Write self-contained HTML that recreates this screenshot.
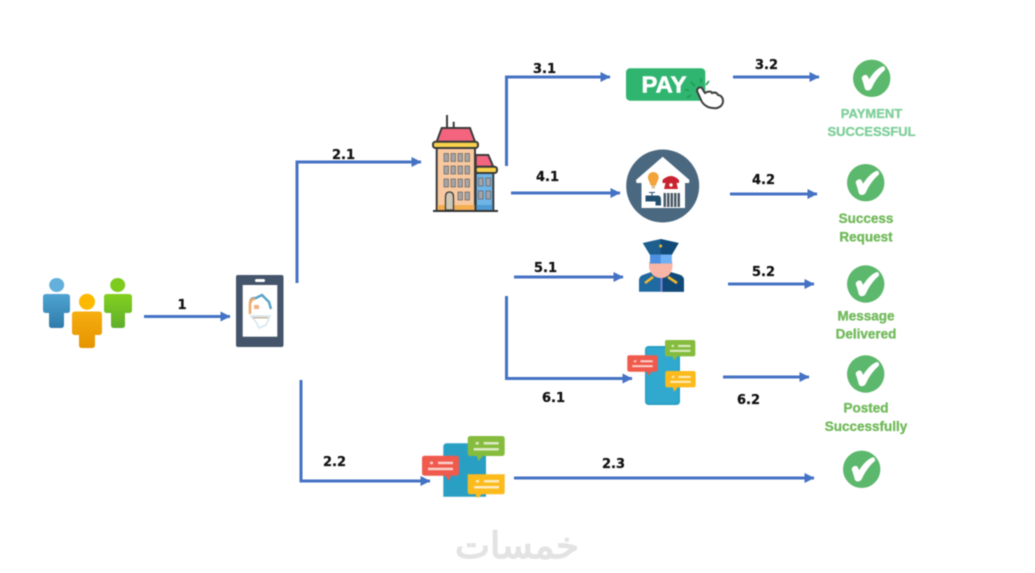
<!DOCTYPE html>
<html><head><meta charset="utf-8"><style>
html,body{margin:0;padding:0;background:#fff}
svg{display:block;filter:blur(.55px)}
.l{font:bold 13px "DejaVu Sans",sans-serif;fill:#111;stroke:#111;stroke-width:.25}
.g{font:bold 13.5px "Liberation Sans",sans-serif;text-anchor:middle;fill:#72ba5c;stroke:#72ba5c;stroke-width:.35}
.a{stroke:#4472c4;stroke-width:3;fill:none}
</style></head><body>
<svg width="1035" height="573" viewBox="0 0 1035 573" xmlns="http://www.w3.org/2000/svg">
<defs>
<linearGradient id="gb" x1="0" y1="0" x2="0" y2="1"><stop offset="0" stop-color="#4fa3d1"/><stop offset="1" stop-color="#2f7cab"/></linearGradient>
<linearGradient id="gg" x1="0" y1="0" x2="0" y2="1"><stop offset="0" stop-color="#84d01f"/><stop offset="1" stop-color="#5fae2c"/></linearGradient>
<linearGradient id="go" x1="0" y1="0" x2="0" y2="1"><stop offset="0" stop-color="#f6ae10"/><stop offset="1" stop-color="#e59400"/></linearGradient>
<marker id="m" viewBox="0 0 10 10" refX="9.500" refY="5" markerWidth="3.400" markerHeight="3.400" orient="auto"><path d="M0 0L10 5L0 10z" fill="#4472c4"/></marker>
<g id="chk"><circle r="18.700" fill="#5cb86c"/><path d="M-10 0C-10-3-5-5-4-2L-2.500 1C1-5 6-10 11-12C13-12 14-10 13-8C8-4 3 3 0 10C-2 13-6 13-7 10C-8 6-9 3-10 0z" fill="#fff"/></g>
<g id="bub"><rect width="37" height="20" rx="2.500" fill="currentColor"/><path d="M9 20h6l-4 5z" fill="currentColor"/><rect x="8" y="6" width="3" height="2.500" fill="#fff" opacity=".7"/><rect x="16" y="6" width="15" height="2.500" fill="#fff" opacity=".7"/><rect x="6" y="12" width="25" height="2.500" fill="#fff" opacity=".7"/></g>
<g id="bubr"><rect width="37" height="20" rx="2.500" fill="currentColor"/><path d="M23 20h6l-2 5z" fill="currentColor"/><rect x="8" y="6" width="3" height="2.500" fill="#fff" opacity=".7"/><rect x="16" y="6" width="15" height="2.500" fill="#fff" opacity=".7"/><rect x="6" y="12" width="25" height="2.500" fill="#fff" opacity=".7"/></g>
</defs>
<rect width="1035" height="573" fill="#fff"/>

<!-- connectors -->
<path class="a" marker-end="url(#m)" d="M144 316.500H230"/>
<path class="a" marker-end="url(#m)" d="M297 283V162H421"/>
<path class="a" marker-end="url(#m)" d="M506.500 166V77H610"/>
<path class="a" marker-end="url(#m)" d="M511 193H620"/>
<path class="a" marker-end="url(#m)" d="M733 77H819"/>
<path class="a" marker-end="url(#m)" d="M730 194H817"/>
<path class="a" marker-end="url(#m)" d="M514 277H623"/>
<path class="a" marker-end="url(#m)" d="M728 284H814"/>
<path class="a" marker-end="url(#m)" d="M506.500 296V378.500H632"/>
<path class="a" marker-end="url(#m)" d="M723 377H809"/>
<path class="a" marker-end="url(#m)" d="M301 380V481H430"/>
<path class="a" marker-end="url(#m)" d="M514 478H814"/>

<!-- connector labels -->
<text class="l" x="182" y="309" text-anchor="middle">1</text>
<text class="l" x="332" y="159">2.1</text>
<text class="l" x="533" y="73">3.1</text>
<text class="l" x="755" y="69">3.2</text>
<text class="l" x="536" y="181">4.1</text>
<text class="l" x="752" y="184">4.2</text>
<text class="l" x="534" y="272">5.1</text>
<text class="l" x="752" y="276">5.2</text>
<text class="l" x="542" y="402">6.1</text>
<text class="l" x="737" y="404">6.2</text>
<text class="l" x="323" y="466">2.2</text>
<text class="l" x="602" y="468">2.3</text>

<!-- people -->
<ellipse cx="56.700" cy="285" rx="7.500" ry="7" fill="#63b0dc"/>
<path d="M46 294H67Q70 294 70 297V310Q70 313 67 313H64V325Q64 328 61 328H52Q49 328 49 325V313H46Q43 313 43 310V297Q43 294 46 294z" fill="url(#gb)"/>
<ellipse cx="117.700" cy="285" rx="7.500" ry="7" fill="#7ecb20"/>
<path d="M107 294H129Q132 294 132 297V310Q132 313 129 313H125V325Q125 328 122 328H114Q111 328 111 325V313H107Q104 313 104 310V297Q104 294 107 294z" fill="url(#gg)"/>
<circle cx="87" cy="301.700" r="8" fill="#fdb900"/>
<path d="M75 311.500H99Q102 311.500 102 314.500V332Q102 335 99 335H95V345Q95 348 92 348H82Q79 348 79 345V335H75Q72 335 72 332V314.500Q72 311.500 75 311.500z" fill="url(#go)"/>

<!-- tablet -->
<rect x="236" y="275" width="47.500" height="72" rx="2" fill="#44546a"/>
<rect x="242.700" y="285" width="34.600" height="51.700" fill="#fff"/>
<rect x="255" y="279" width="10" height="3" rx="1.500" fill="#fff"/>
<path d="M251 303Q249 298 256 298L262 295L269 302L271 309" fill="none" stroke="#5ba3c9" stroke-width="2.500"/>
<path d="M255 299Q250 299 250 304V314" fill="none" stroke="#f0a868" stroke-width="2.500"/>
<rect x="254" y="305" width="5" height="4" fill="#f0b080"/>
<path d="M251 316H270L266 325L259 328L256 322z" fill="none" stroke="#d5e5ef" stroke-width="1.500"/>
<rect x="253" y="317" width="15" height="1.500" fill="#c9b8a0"/>

<!-- building -->
<g stroke="#3b3b3b" stroke-width="2">
<path d="M447 115V135M453.700 121.700V135" fill="none"/>
<path d="M441.700 128H470L475 141.700H436.700z" fill="#f4647f"/>
<rect x="436.700" y="148" width="38.300" height="62.700" fill="#f8c9a0"/>
<rect x="433" y="141.700" width="45" height="6.300" rx="2.500" fill="#f7d24a"/>
<path d="M475.700 155H488.300L493.300 166.700H475.700z" fill="#f4647f"/>
<rect x="475.700" y="173" width="17.600" height="37.700" fill="#70b4e6"/>
<rect x="475.700" y="166.700" width="21.300" height="6.300" rx="2.500" fill="#f7d24a"/>
</g>
<g fill="#a5a5a8" stroke="#555" stroke-width=".6">
<rect x="444" y="153.500" width="4.500" height="8"/><rect x="451" y="153.500" width="4.500" height="8"/><rect x="458" y="153.500" width="4.500" height="8"/><rect x="465" y="153.500" width="4.500" height="8"/>
<rect x="444" y="166" width="4.500" height="8"/><rect x="451" y="166" width="4.500" height="8"/><rect x="458" y="166" width="4.500" height="8"/><rect x="465" y="166" width="4.500" height="8"/>
<rect x="444" y="179" width="4.500" height="8"/><rect x="451" y="179" width="4.500" height="8"/><rect x="458" y="179" width="4.500" height="8"/><rect x="465" y="179" width="4.500" height="8"/>
<rect x="458" y="192" width="4.500" height="8"/><rect x="465" y="192" width="4.500" height="8"/>
<rect x="478.500" y="178" width="4.500" height="8"/><rect x="486" y="178" width="4.500" height="8"/>
<rect x="478.500" y="191" width="4.500" height="8"/><rect x="486" y="191" width="4.500" height="8"/>
</g>
<rect x="437.500" y="205" width="37" height="5" fill="#f4ad50"/>
<rect x="476.500" y="205" width="16" height="5" fill="#4f9bd4"/>
<path d="M445.500 210V197Q445.500 192 449.500 192Q453.500 192 453.500 197V210z" fill="#cfc8b4" stroke="#3b3b3b" stroke-width="1.300"/>
<path d="M433 211H498" stroke="#333" stroke-width="2"/>

<!-- PAY -->
<rect x="626" y="68.300" width="79.300" height="32.400" rx="4" fill="#2fb56f"/>
<text x="641.500" y="92.500" font-family="Liberation Sans" font-weight="bold" font-size="23.500" fill="#fff" stroke="#fff" stroke-width=".6" textLength="45" lengthAdjust="spacingAndGlyphs">PAY</text>
<path d="M695 86L691 82M701 83L701 78M689 90L685 90M706 85L709 81M691 95L687 98" stroke="#1c9a50" stroke-width="1.500" fill="none"/>
<path d="M697 90C699 86 702 87 703 90L705 93C708 91 711 91 712 93C715 92 717 93 718 95C720 95 723 97 723 101C723 106 718 109 713 108C708 108 704 105 702 102L697 91z" fill="#fff" stroke="#3f3f3f" stroke-width="2"/>

<!-- house circle -->
<circle cx="662.700" cy="186" r="36.500" fill="#4a6880"/>
<path d="M662.700 156.700L689.500 180L689 183H685V208H641.500V183H636.500L636 180z" fill="#fff"/>
<path d="M653.300 172a5.500 5.500 0 0 1 4.500 8.500l-2 5h-5l-2-5a5.500 5.500 0 0 1 4.500-8.500z" fill="#f2a33a"/>
<rect x="651.500" y="185.500" width="3.600" height="3" fill="#d9c39a"/>
<path d="M662.500 180Q671 172 679 180V183H675V181H667V183H662.500z" fill="#c8232f"/>
<path d="M666 181H676L678 189H664z" fill="#c8232f"/>
<circle cx="671" cy="185" r="1.700" fill="#fff"/>
<path d="M646 196H658Q660.500 196 660.500 200V205H656V201H646zM649 192.500H655M652 192.500V196" fill="#24506f" stroke="#24506f"/>
<g fill="#4a5a68"><rect x="663.500" y="193" width="2.500" height="14"/><rect x="667" y="193" width="2.500" height="14"/><rect x="670.500" y="193" width="2.500" height="14"/><rect x="674" y="193" width="2.500" height="14"/><rect x="677.500" y="193" width="2.500" height="14"/></g>

<!-- police -->
<path d="M639 291.700V280Q639 276 644 274.500L654 271H667L679 274.500Q684 276 684 280V291.700z" fill="#1f6aa0"/>
<path d="M662 271H667L679 274.500Q684 276 684 280V291.700H662z" fill="#114a78"/>
<rect x="660.500" y="273" width="2" height="18.700" fill="#7a7fd8"/>
<path d="M649 262H672.500V268Q670 278 661 278Q652 278 649 268z" fill="#f9b5a6"/>
<path d="M642.700 243L660.700 239L678.700 243L671.700 255H650z" fill="#1e5f8f"/>
<path d="M660.700 239L678.700 243L671.700 255H660.700z" fill="#124a78"/>
<path d="M650 254.500H671.700V263.500H650z" fill="#4d8fe0"/>
<path d="M660.700 254.500H671.700V263.500H660.700z" fill="#6fb0f5"/>
<circle cx="660.700" cy="246" r="1.500" fill="#f7b928"/>
<path d="M645 283L653 277M677 283L668 277" stroke="#f5b82e" stroke-width="2.600"/>

<!-- chat phone 1 -->
<rect x="645" y="346" width="35" height="59" rx="3.500" fill="#2a9fc4"/>
<rect x="646.500" y="348" width="32" height="55" rx="2.500" fill="#31a9cf"/>
<use href="#bub" transform="translate(665,340) scale(.82,.82)" color="#86bc3e"/>
<use href="#bubr" transform="translate(627.300,355.300) scale(.82,.82)" color="#ef5a4c"/>
<use href="#bub" transform="translate(665.300,371) scale(.82,.82)" color="#fbbb1d"/>

<!-- chat phone 2 -->
<path d="M443.300 496.700V447Q443.300 443.300 447 443.300H482Q486 443.300 486 447V496.700z" fill="#2a9fc4"/>
<use href="#bub" transform="translate(467.700,436)" color="#86bc3e"/>
<use href="#bubr" transform="translate(422,455.700)" color="#ef5a4c"/>
<path d="M467.700 474.300H504.700V492Q504.700 494.300 502.500 494.300H482L478 497.500H476V494.300H470Q467.700 494.300 467.700 492z" fill="#fbbb1d"/>
<rect x="476" y="480" width="3" height="2.500" fill="#fff" opacity=".7"/><rect x="484" y="480" width="15" height="2.500" fill="#fff" opacity=".7"/><rect x="474" y="486" width="25" height="2.500" fill="#fff" opacity=".7"/>

<!-- checks -->
<use href="#chk" x="871.700" y="78.300"/>
<use href="#chk" x="865.700" y="182.700"/>
<use href="#chk" x="865.700" y="284"/>
<use href="#chk" x="865.700" y="374"/>
<use href="#chk" x="861.700" y="469.300"/>

<text class="g" x="871.500" y="118" style="fill:#7fcf9a;stroke:#7fcf9a;font-size:13px">PAYMENT</text>
<text class="g" x="871.500" y="136" style="fill:#7fcf9a;stroke:#7fcf9a;font-size:13px">SUCCESSFUL</text>
<text class="g" x="866" y="223">Success</text>
<text class="g" x="866" y="241.500">Request</text>
<text class="g" x="866" y="320.500">Message</text>
<text class="g" x="866" y="338.500">Delivered</text>
<text class="g" x="866" y="412.500">Posted</text>
<text class="g" x="866" y="431">Successfully</text>

<!-- watermark -->
<text x="517" y="558" text-anchor="middle" font-family="DejaVu Sans,sans-serif" font-size="36" fill="#e3e3e3" stroke="#e3e3e3" stroke-width="1.400" textLength="124" lengthAdjust="spacingAndGlyphs">خمسات</text>
</svg>
</body></html>
